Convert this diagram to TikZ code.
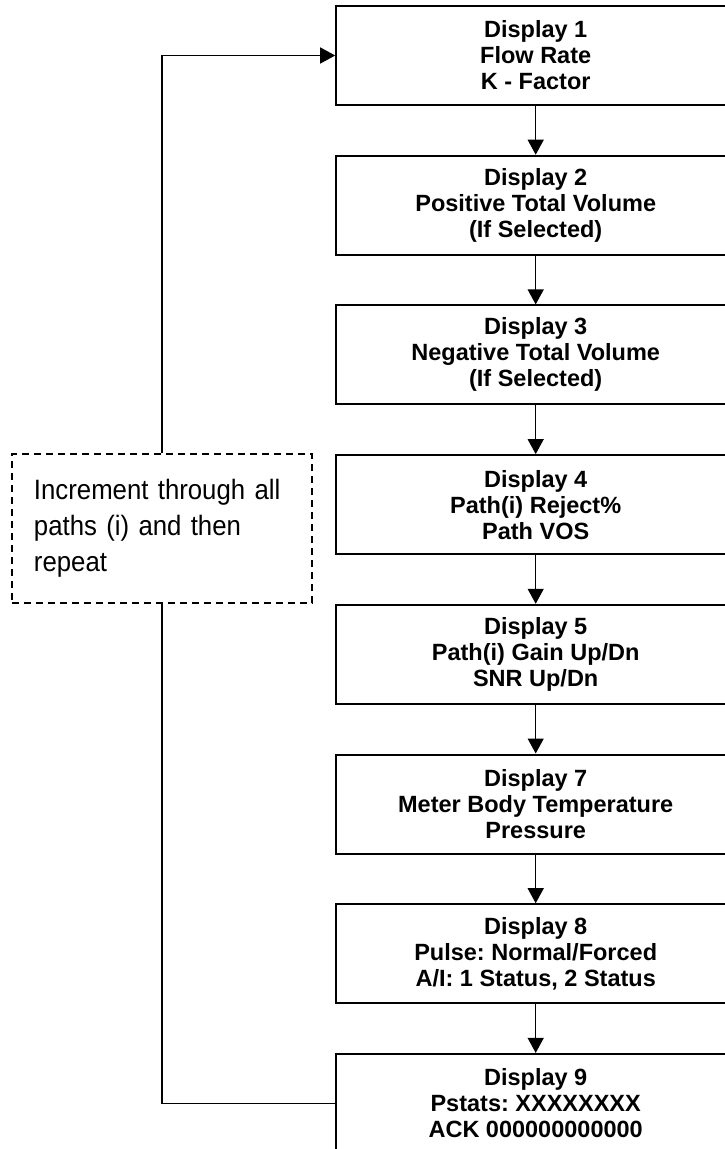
\documentclass[tikz,border=0pt]{standalone}
\usepackage{fontspec}
\setmainfont{Liberation Sans}
\newfontfamily\narrowfont[FakeStretch=0.92]{Liberation Sans}
\usetikzlibrary{arrows.meta}
\frenchspacing

\begin{document}
\begin{tikzpicture}[>={Triangle[length=15pt,width=16pt]},
    dispbox/.style={rectangle,draw,line width=2pt,minimum width=399pt,minimum height=99pt,inner sep=0pt,align=center,font=\bfseries\fontsize{23.5}{26}\selectfont},
    loopbox/.style={rectangle,draw,dash pattern=on 7pt off 5pt,line width=1.3pt,minimum width=300pt,minimum height=149pt,text width=256pt,inner xsep=22pt,align=left,font=\narrowfont\fontsize{28}{36}\selectfont},
    flow/.style={line width=1.3pt}]
    \useasboundingbox (0,0) rectangle (724pt,-1149pt);

    \node[dispbox] (disp1) at (535.7pt,-55.5pt) {Display 1\\Flow Rate\\K - Factor} ;
    \node[dispbox, yshift=-149.7pt] (disp2) at (disp1) {Display 2\\Positive Total Volume\\(If Selected)} ;
    \node[dispbox, yshift=-149.7pt] (disp3) at (disp2) {Display 3\\Negative Total Volume\\(If Selected)} ;
    \node[dispbox, yshift=-149.7pt] (disp4) at (disp3) {Display 4\\Path(i) Reject\%\\Path VOS} ;
    \node[dispbox, yshift=-149.7pt] (disp5) at (disp4) {Display 5\\Path(i) Gain Up/Dn\\SNR Up/Dn} ;
    \node[dispbox, yshift=-149.7pt] (disp7) at (disp5) {Display 7\\Meter Body Temperature\\Pressure} ;
    \node[dispbox, yshift=-149.7pt] (disp8) at (disp7) {Display 8\\Pulse: Normal/Forced\\A/I: 1 Status, 2 Status} ;
    \node[dispbox, yshift=-149.7pt] (disp9) at (disp8) {Display 9\\Pstats: XXXXXXXX\\ACK 000000000000} ;

    \node[loopbox] (incr) at (162pt,-528.5pt) {Increment through all\\paths (i) and then\\repeat} ;

    \draw[->, flow] (disp1.south) -- (disp2.north) ;
    \draw[->, flow] (disp2.south) -- (disp3.north) ;
    \draw[->, flow] (disp3.south) -- (disp4.north) ;
    \draw[->, flow] (disp4.south) -- (disp5.north) ;
    \draw[->, flow] (disp5.south) -- (disp7.north) ;
    \draw[->, flow] (disp7.south) -- (disp8.north) ;
    \draw[->, flow] (disp8.south) -- (disp9.north) ;

    \draw[flow] (disp9.west) -| (incr.south) ;
    \draw[->, flow] (incr.north) |- (disp1.west) ;

\end{tikzpicture}
\end{document}
